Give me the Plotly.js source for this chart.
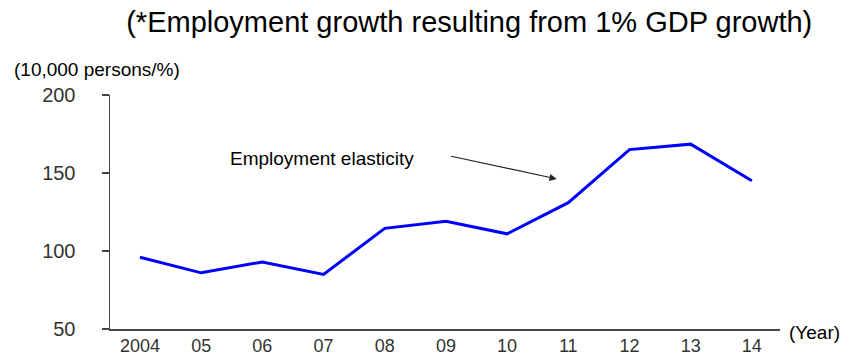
<!DOCTYPE html>
<html>
<head>
<meta charset="utf-8">
<script src="https://cdn.plot.ly/plotly-3.0.1.min.js"></script>
<style>html,body{margin:0;padding:0;background:#fff;}#chart{width:847px;height:355px;}</style>
</head>
<body>
<div id="chart"></div>
<script>
const years = ["2004","05","06","07","08","09","10","11","12","13","14"];
const elasticity = [96, 86, 93, 85, 114.5, 119, 111, 131, 165, 168.5, 145];
const yTicks = [50, 100, 150, 200];

const trace = {
  x: years,
  y: elasticity,
  type: "scatter",
  mode: "lines",
  line: {color: "#0000FF", width: 3},
  hoverinfo: "x+y"
};

const layout = {
  width: 847, height: 355,
  margin: {l: 110, r: 67, t: 95, b: 26},
  paper_bgcolor: "#fff", plot_bgcolor: "#fff",
  showlegend: false,
  font: {family: "Arial, 'Liberation Sans', sans-serif", color: "#000"},
  title: {
    text: "(*Employment growth resulting from 1% GDP growth)",
    font: {size: 29, color: "#000", family: "Arial, 'Liberation Sans', sans-serif"},
    xref: "container", yref: "container",
    x: 0.554, xanchor: "center", y: 0.938, yanchor: "middle"
  },
  xaxis: {
    type: "category",
    range: [-0.49, 10.46],
    showgrid: false, zeroline: false,
    showline: true, linecolor: "#444", linewidth: 1.5,
    ticks: "",
    tickfont: {size: 18, color: "#333"},
    ticklabelstandoff: 0,
    fixedrange: true
  },
  yaxis: {
    range: [50, 200],
    tickvals: yTicks,
    showgrid: false, zeroline: false,
    showline: true, linecolor: "#444", linewidth: 1.5,
    ticks: "outside", ticklen: 7, tickcolor: "#444", tickwidth: 1.5,
    tickfont: {size: 20, color: "#333"},
    ticklabelstandoff: 22,
    fixedrange: true
  },
  annotations: [
    {
      text: "(10,000 persons/%)", xref: "paper", yref: "paper",
      x: -0.146, xanchor: "left", y: 1.111, yanchor: "middle",
      showarrow: false, font: {size: 19, color: "#000"}
    },
    {
      text: "(Year)", xref: "paper", yref: "paper",
      x: 1.0104, xanchor: "left", y: -0.017, yanchor: "middle",
      showarrow: false, font: {size: 19, color: "#000"}
    },
    {
      text: "Employment elasticity", xref: "x", yref: "y",
      x: 2.97, y: 159.6, xanchor: "center", yanchor: "middle",
      showarrow: false, font: {size: 19, color: "#000"}
    },
    {
      text: "", xref: "x", yref: "y",
      x: 6.81, y: 146.2,
      showarrow: true, arrowhead: 2, arrowsize: 1.2, arrowwidth: 1.2,
      arrowcolor: "#222", ax: -107, ay: -23
    }
  ]
};

Plotly.newPlot("chart", [trace], layout, {displayModeBar: false, staticPlot: true});
</script>
</body>
</html>
